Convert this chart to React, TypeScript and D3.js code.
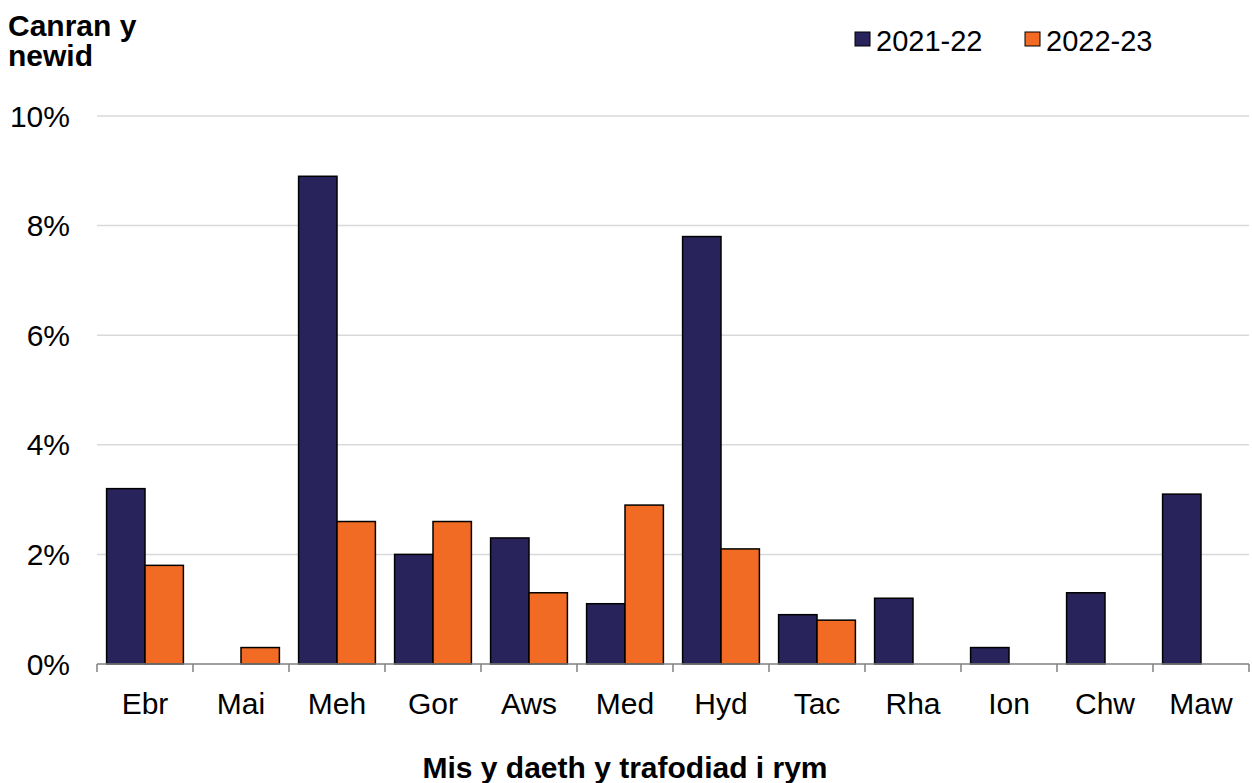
import React from "react";
import * as d3 from "d3";

const months = ["Ebr", "Mai", "Meh", "Gor", "Aws", "Med", "Hyd", "Tac", "Rha", "Ion", "Chw", "Maw"];
const seriesNames = ["2021-22", "2022-23"];
const values2122 = [3.2, 0, 8.9, 2.0, 2.3, 1.1, 7.8, 0.9, 1.2, 0.3, 1.3, 3.1];
const values2223 = [1.8, 0.3, 2.6, 2.6, 1.3, 2.9, 2.1, 0.8, 0, 0, 0, 0];
const yTicks = [0, 2, 4, 6, 8, 10];
const colors = ["#29235c", "#f26b24"];

export default function App() {
  const W = 1252, H = 783;
  const left = 97, right = 1249, top = 116, bottom = 664;
  const x = d3.scaleBand<string>().domain(months).range([left, right]).paddingInner(0.2).paddingOuter(0.1);
  const step = x.step();
  const y = d3.scaleLinear().domain([0, 10]).range([bottom, top]);
  const sub = d3.scaleBand<number>().domain([0, 1]).range([0, x.bandwidth()]);
  const data = [values2122, values2223];
  const font = "Liberation Sans, Arial, sans-serif";
  const fs = 30;
  return (
    <svg width={W} height={H} style={{ position: "absolute", left: 0, top: 0 }} fontFamily={font}>
      <rect width={W} height={H} fill="#fff" />
      <text x={8} y={36} fontSize={fs} fontWeight="bold" fill="#000">Canran y</text>
      <text x={8} y={66} fontSize={fs} fontWeight="bold" fill="#000">newid</text>
      {yTicks.map((t) => (
        <g key={t}>
          {t > 0 && <line x1={left} x2={right} y1={y(t)} y2={y(t)} stroke="#d9d9d9" strokeWidth={1.5} />}
          <text x={70} y={y(t)} dy="0.35em" textAnchor="end" fontSize={fs} fill="#000">{t}%</text>
        </g>
      ))}
      {months.map((m, i) => (
        <g key={m}>
          {data.map((s, j) =>
            s[i] > 0 ? (
              <rect key={j} x={(x(m) as number) + (sub(j) as number)} y={y(s[i])} width={sub.bandwidth()} height={y(0) - y(s[i])}
                fill={colors[j]} stroke="#000" strokeWidth={1.5} />
            ) : null
          )}
          <text x={(x(m) as number) + x.bandwidth() / 2} y={703} dy="0.35em" textAnchor="middle" fontSize={fs} fill="#000">{m}</text>
        </g>
      ))}
      <line x1={left} x2={right} y1={bottom} y2={bottom} stroke="#808080" strokeWidth={1.5} />
      {d3.range(months.length + 1).map((i) => (
        <line key={i} x1={left + i * step} x2={left + i * step} y1={bottom} y2={bottom + 8} stroke="#808080" strokeWidth={1.5} />
      ))}
      <text x={625} y={767} dy="0.35em" textAnchor="middle" fontSize={fs} fontWeight="bold" fill="#000">Mis y daeth y trafodiad i rym</text>
      {seriesNames.map((n, j) => (
        <g key={n} transform={`translate(${855 + j * 170},32)`}>
          <rect x={0} y={0} width={15} height={14} fill={colors[j]} stroke="#000" strokeWidth={1} />
          <text x={21} y={9} dy="0.35em" fontSize={29} fill="#000">{n}</text>
        </g>
      ))}
    </svg>
  );
}
